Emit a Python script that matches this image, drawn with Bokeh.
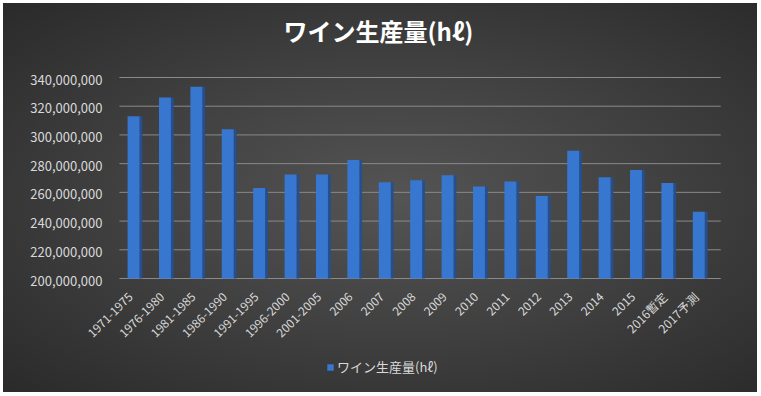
import math
from bokeh.plotting import figure
from bokeh.models import ColumnDataSource, Legend, LegendItem, Range1d
from bokeh.core.properties import value
from bokeh.transform import dodge
from bokeh.embed import file_html
from bokeh.resources import INLINE

categories = ["1971-1975", "1976-1980", "1981-1985", "1986-1990", "1991-1995",
              "1996-2000", "2001-2005", "2006", "2007", "2008", "2009", "2010",
              "2011", "2012", "2013", "2014", "2015", "2016暫定", "2017予測"]
production = [313000000, 326000000, 333500000, 304000000, 263000000,
              272500000, 272500000, 282500000, 267000000, 268500000, 272000000,
              264000000, 267500000, 257500000, 289000000, 270500000, 275500000,
              266500000, 246500000]
y_ticks = [200000000, 220000000, 240000000, 260000000, 280000000,
           300000000, 320000000, 340000000]
series_name = "ワイン生産量(hℓ)"

FONT = "Noto Sans CJK JP"
LABEL = "#d9d9d9"
BASE = y_ticks[0]
TOP = y_ticks[-1]
STEP = (TOP - BASE) / 201.0          # value per pixel (201px between 200M and 340M)
Y_START = BASE - 114 * STEP          # frame reaches down to the bottom of the chart
Y_END = BASE + 226 * STEP            # frame reaches up under the title
X_START, X_END = -3.6, 19.87         # category slots of 31.4px
GRID_X0, GRID_X1 = -0.45, 18.7

pos = list(range(len(categories)))
src = ColumnDataSource(dict(pos=pos, cat=categories, val=production))
tick_src = ColumnDataSource(dict(
    y=y_ticks,
    label=["{:,}".format(t) for t in y_ticks],
    x0=[GRID_X0] * len(y_ticks),
    x1=[GRID_X1] * len(y_ticks),
))

p = figure(x_range=Range1d(X_START, X_END), y_range=Range1d(Y_START, Y_END),
           width=754, height=389, output_backend="svg", toolbar_location=None,
           min_border_left=17, min_border_right=0, min_border_top=49,
           min_border_bottom=0)

p.styles = {"margin": "3px",
            "background": "radial-gradient(ellipse at 52% 50%, #545454 0%, #424242 45%, #2a2a2a 100%)"}
p.background_fill_color = None
p.border_fill_color = None
p.outline_line_color = None
p.xaxis.visible = False
p.yaxis.visible = False
p.xgrid.visible = False
p.ygrid.visible = False

p.title.text = series_name
p.title.align = "left"
p.title.offset = 263
p.title.text_color = "#ffffff"
p.title.text_font = FONT
p.title.text_font_size = "24px"
p.title.text_font_style = "bold"

# horizontal gridlines
p.segment(x0="x0", y0="y", x1="x1", y1="y", source=tick_src,
          line_color="#8a8a8a", line_width=1)

# value labels
p.text(x="x0", y="y", text="label", source=tick_src, text_align="right",
       text_baseline="middle", x_offset=-17, y_offset=2, text_color=LABEL,
       text_font=value(FONT), text_font_size="13px")

# bars: darker side face + front face
p.vbar(x=dodge("pos", 0.235), top="val", bottom=BASE, width=0.09, source=src,
       fill_color="#254f8f", line_color=None)
front = p.vbar(x="pos", top="val", bottom=BASE, width=0.38, source=src,
               fill_color="#3877cf", line_color=None)

# category labels along the floor
p.text(x="pos", y=BASE, text="cat", source=src, angle=math.pi / 4,
       text_align="right", text_baseline="middle", x_offset=-3, y_offset=16,
       text_color=LABEL, text_font=value(FONT), text_font_size="12px")

legend = Legend(items=[LegendItem(label=series_name, renderers=[front])],
                location=(306, 16), orientation="horizontal",
                background_fill_alpha=0, border_line_color=None,
                label_text_color=LABEL, label_text_font=FONT,
                label_text_font_size="13px", glyph_width=8, glyph_height=8,
                label_height=14, label_standoff=3, margin=0, padding=0)
p.add_layout(legend)

open("out.html", "w").write(file_html(p, INLINE))
